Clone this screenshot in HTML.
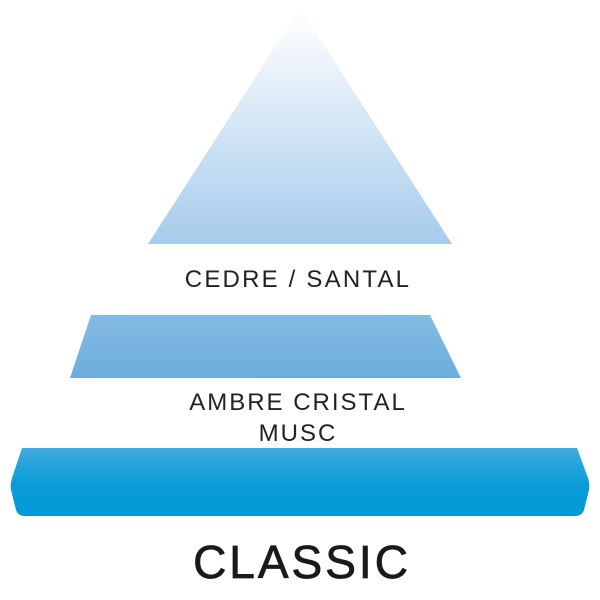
<!DOCTYPE html>
<html><head><style>
body{margin:0;width:600px;height:600px;background:#fff;overflow:hidden}
svg{display:block}
text{font-family:"Liberation Sans",sans-serif;fill:#222;text-anchor:middle}
</style></head><body>
<svg width="600" height="600" viewBox="0 0 600 600">
<defs>
<linearGradient id="g1" x1="0" y1="0" x2="0" y2="1">
<stop offset="0" stop-color="#ffffff"/><stop offset="0.15" stop-color="#f4f8fd"/><stop offset="1" stop-color="#a6cbeb"/></linearGradient>
<linearGradient id="g2" x1="0" y1="0" x2="0" y2="1">
<stop offset="0" stop-color="#86bbe3"/><stop offset="1" stop-color="#6badde"/></linearGradient>
<linearGradient id="g3" x1="0" y1="0" x2="0" y2="1">
<stop offset="0" stop-color="#40aade"/><stop offset="0.5" stop-color="#0c9dd8"/><stop offset="1" stop-color="#0099d6"/></linearGradient>
</defs>
<polygon points="300,8 452,244 148,244" fill="url(#g1)"/>
<polygon points="91,315 430,315 461,378 70,378" fill="url(#g2)"/>
<path d="M22,448 L577,448 L588,478 Q590,484 589,490 L584,510 Q582,516 575,516 L25,516 Q18,516 16,510 L11,490 Q10,484 12,478 Z" fill="url(#g3)"/>
<text x="298" y="287" font-size="24" letter-spacing="2.2">CEDRE / SANTAL</text>
<text x="298" y="410" font-size="24" letter-spacing="2">AMBRE CRISTAL</text>
<text x="298" y="441" font-size="24" letter-spacing="2">MUSC</text>
<text x="302" y="578" font-size="46" letter-spacing="3" style="fill:#1a1a1a;stroke:#1a1a1a;stroke-width:0.8">CLASSIC</text>
</svg>
</body></html>
